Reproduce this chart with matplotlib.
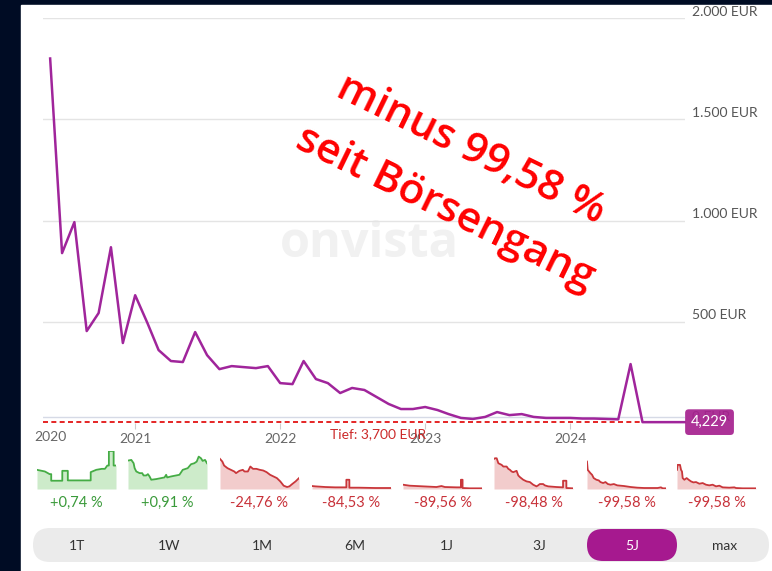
import matplotlib
matplotlib.use("Agg")
import matplotlib.pyplot as plt
import matplotlib.dates as mdates
import matplotlib.transforms as mtransforms
from matplotlib.patches import Rectangle, FancyBboxPatch
import pandas as pd

plt.rcParams['font.family'] = ['Lato', 'DejaVu Sans']

# main chart: monthly closes in EUR, Jun 2020 .. Sep 2024, plus last quote
prices = [1800, 839, 992, 454, 543, 868, 395, 631, 493, 360,
          306, 301, 449, 335, 266, 281, 276, 271, 281, 197,
          192, 306, 217, 197, 148, 173, 163, 128, 94, 69,
          69, 79, 64, 44, 25, 20, 30, 54, 39, 44,
          30, 25, 25, 25, 22, 22, 20, 18, 291, 4.2,
          4.2, 4.2]
dates = list(pd.date_range('2020-06-01', periods=len(prices), freq='MS'))
last_date = pd.Timestamp('2024-10-15')
last_price = 4.229
low_price = 3.7
low_label = 'Tief: 3,700 EUR'
low_label_date = pd.Timestamp('2022-09-04')

y_grid = [500, 1000, 1500, 2000]
year_ticks = [pd.Timestamp(f'{y}-01-01') for y in (2021, 2022, 2023, 2024)]
year_labels = ['2021', '2022', '2023', '2024']

# performance sparklines (time in % of period, relative price)
spark_t = [
    [0, 10, 16, 18, 18, 32, 32, 39, 39, 68, 68, 75, 82, 86, 89, 91, 91, 97, 97, 100],
    [0, 4.2, 7.1, 8.4, 10.5, 14.7, 18, 19.7, 23.1, 25.2, 27.3, 29.4, 35.7, 42, 46.2,
     48.3, 49.6, 54.6, 60.9, 65.1, 69.3, 75.6, 79.8, 84, 87, 89.5, 92.4, 94.5, 97.5, 100],
    [0, 3, 5.2, 9.5, 13.8, 18.1, 20.3, 24.6, 28.9, 31, 35.3, 38.4, 41.8, 46.1, 50.4,
     54.7, 59, 63.4, 67.7, 72, 76.3, 80.6, 84.9, 87.9, 91.4, 95.7, 100],
    [0, 4.2, 16.9, 29.5, 43.5, 43.5, 47.3, 47.3, 59.1, 80.2, 100],
    [0, 8.5, 25.4, 42.4, 48.7, 53, 67.8, 73.3, 73.3, 75.4, 75.4, 84.7, 100],
    [0, 1.3, 3.4, 5.5, 9.7, 11.8, 16, 18.1, 20.2, 22.3, 24.4, 26.5, 28.6, 30.7, 32.8,
     37, 41.2, 45.4, 49.6, 53.8, 55.9, 58, 62.2, 64.3, 68.5, 79, 87.4, 87.4, 91.6, 91.6, 100],
    [0, 0.9, 4.3, 6.4, 8.5, 11.9, 14.9, 17, 20.4, 23.4, 26.4, 29.8, 34, 38.3, 46.8,
     55.3, 63.8, 72.3, 89.4, 93.6, 95.7, 100],
    [0, 0.8, 3.8, 5.1, 6.3, 7.2, 9.3, 12.2, 14.8, 17.7, 20.7, 24.1, 28.3, 32.5, 36.7,
     40.9, 45.1, 49.4, 53.6, 57.8, 66.2, 72.6, 74.7, 83.1, 100],
]
spark_v = [
    [58, 53, 45, 45, 25, 25, 55, 55, 26, 26, 51, 58, 61, 61, 71, 71, 115, 115, 71, 71],
    [86, 88, 78, 63, 53, 48, 48, 41, 41, 45, 38, 28, 30, 33, 35,
     43, 35, 38, 41, 43, 58, 63, 75, 78, 83, 98, 93, 85, 88, 78],
    [91, 83, 71, 63, 58, 53, 48, 55, 58, 53, 53, 68, 61, 61, 58,
     56, 51, 43, 38, 33, 23, 10, 6, 8, 15, 23, 33],
    [9, 8, 6, 5, 5, 28, 28, 4, 4, 3, 3],
    [13, 10, 8, 6, 9, 6, 5, 5, 28, 28, 3, 2, 2],
    [91, 93, 93, 78, 73, 68, 68, 61, 58, 53, 51, 53, 55, 41, 36,
     28, 23, 21, 13, 8, 11, 15, 15, 11, 8, 6, 5, 25, 25, 3, 2],
    [83, 58, 48, 43, 33, 28, 26, 21, 18, 21, 15, 13, 15, 11, 9,
     6, 4, 3, 3, 5, 2, 2],
    [58, 73, 73, 58, 53, 33, 28, 33, 28, 23, 20, 21, 16, 18, 13,
     11, 13, 8, 10, 5, 4, 5, 3, 2, 2],
]
spark_labels = ['+0,74 %', '+0,91 %', '-24,76 %', '-84,53 %',
                '-89,56 %', '-98,48 %', '-99,58 %', '-99,58 %']
buttons = ['1T', '1W', '1M', '6M', '1J', '3J', '5J', 'max']
active_button = '5J'

W, H = 772, 571
fig = plt.figure(figsize=(W / 100, H / 100), dpi=100, facecolor='#000c24')

# background canvas in pixel units
bg = fig.add_axes([0, 0, 1, 1], zorder=0)
bg.set_xlim(0, W)
bg.set_ylim(H, 0)
bg.axis('off')
bg.add_patch(Rectangle((21, 5), W - 21, H - 5, color='white'))

# main price chart
ax = fig.add_axes([43 / W, (H - 423) / H, 642 / W, 405 / H], zorder=2)
ax.set_facecolor('none')
for s in ax.spines.values():
    s.set_visible(False)
ax.set_ylim(0, 2000)
ax.set_xlim(mdates.date2num(pd.Timestamp('2020-05-14')),
            mdates.date2num(pd.Timestamp('2024-10-16')))
ax.set_yticks(y_grid)
ax.tick_params(axis='y', length=0, labelleft=False)
ax.grid(axis='y', color='#e4e4e4', lw=1)
ax.set_axisbelow(True)
ax.axhline(30, color='#d6dae6', lw=1, zorder=1)  # zero line of the widget

ax.set_xticks(year_ticks)
ax.set_xticklabels(year_labels)
ax.set_xticks([dates[0]], minor=True)
ax.set_xticklabels(['2020'], minor=True)
ax.tick_params(axis='x', which='major', length=4, width=0.8, color='#cccccc',
               labelcolor='#666666', labelsize=10, pad=3)
ax.tick_params(axis='x', which='minor', length=0, labelcolor='#666666',
               labelsize=10, pad=6)

trans = mtransforms.blended_transform_factory(ax.transAxes, ax.transData)
for v in y_grid:
    ax.text(1.011, v + 2, f'{v:,} EUR'.replace(',', '.'), transform=trans,
            ha='left', va='bottom', fontsize=10, color='#555555', clip_on=False)
ax.text(1.011, 0, '0 EUR', transform=trans, ha='left', va='bottom',
        fontsize=10, color='#555555', clip_on=False, zorder=3)

ax.text(0.509, 0.44, 'onvista', transform=ax.transAxes, ha='center', va='center',
        fontsize=35, fontweight='bold', color='#f1f1f1', family='Open Sans', zorder=0)

ax.axhline(low_price, color='#e00000', lw=1.2, ls=(0, (3, 2)), zorder=3, clip_on=False)
ax.plot(dates + [last_date], prices + [last_price], color='#a0259b', lw=1.8,
        zorder=4, clip_on=False)
ax.annotate(low_label, xy=(low_label_date, low_price), xytext=(0, -4),
            textcoords='offset points', ha='center', va='top', fontsize=10,
            color='#cc2a2a', zorder=5)
ax.text(1.0382, last_price, f'{last_price:.3f}'.replace('.', ','), transform=trans,
        ha='center', va='center', fontsize=10.5, color='white', zorder=6, clip_on=False,
        bbox=dict(boxstyle='round,pad=0.4,rounding_size=0.25', fc='#a6228f',
                  ec='none', alpha=0.93))

ax.text(0.666, 0.674, 'minus 99,58 %', transform=ax.transAxes, rotation=-26,
        rotation_mode='anchor', ha='center', va='center', fontsize=30.5,
        fontweight=600, family='Open Sans', color='#ff0000', zorder=7)
ax.text(0.627, 0.530, 'seit Börsengang', transform=ax.transAxes, rotation=-26,
        rotation_mode='anchor', ha='center', va='center', fontsize=30.5,
        fontweight=600, family='Open Sans', color='#ff0000', zorder=7)

# sparklines
spark_left = [37, 128, 220, 312, 403, 494, 587, 677]
for left, t, v, lab in zip(spark_left, spark_t, spark_v, spark_labels):
    sa = fig.add_axes([left / W, (H - 489) / H, 79 / W, 38 / H], zorder=2)
    up = lab.startswith('+')
    line_c = '#45ac45' if up else '#c9363a'
    fill_c = '#cdebca' if up else '#f2cccc'
    sa.fill_between(t, v, 0, color=fill_c, lw=0)
    sa.plot(t, v, color=line_c, lw=1.3)
    sa.set_xlim(0, 100)
    sa.set_ylim(0, 115)
    sa.axis('off')
    bg.text(left + 39.5, 503, lab, ha='center', va='center', fontsize=10.5,
            color='#3a9a3a' if up else '#c8323a')

# period buttons
bg.add_patch(FancyBboxPatch((33, 528), 736, 34, boxstyle='round,pad=0,rounding_size=17',
                            fc='#ebebeb', ec='none'))
for i, b in enumerate(buttons):
    cx = 77 + 92.5 * i
    if b == active_button:
        bg.add_patch(FancyBboxPatch((cx - 45, 529), 90, 32,
                                    boxstyle='round,pad=0,rounding_size=16',
                                    fc='#a6198f', ec='none'))
    bg.text(cx, 546, b, ha='center', va='center', fontsize=10,
            color='white' if b == active_button else '#333333')

fig.savefig('out.png', dpi=100, facecolor=fig.get_facecolor())
